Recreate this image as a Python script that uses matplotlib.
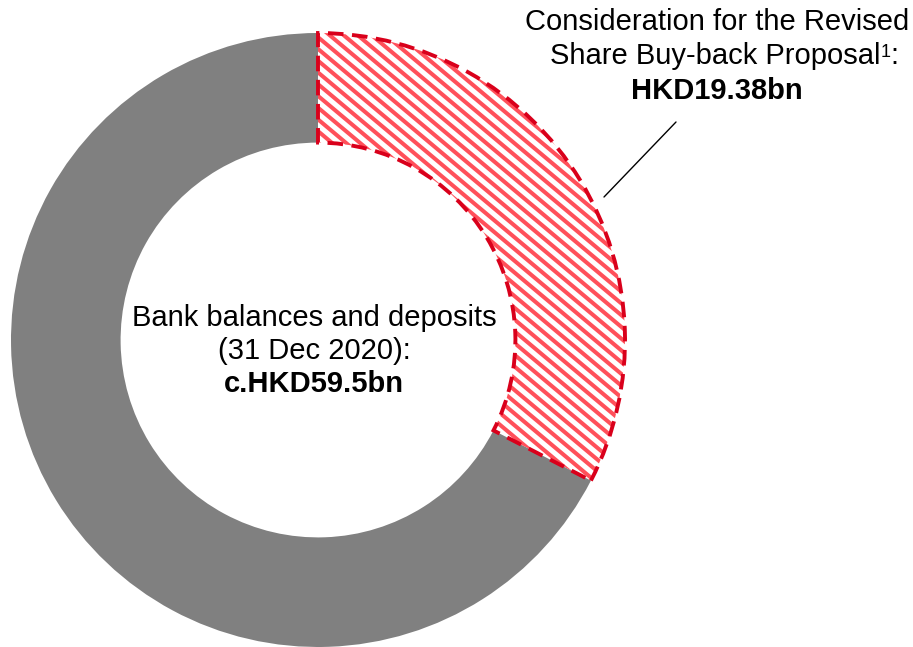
import numpy as np
import matplotlib
matplotlib.use("Agg")
import matplotlib.pyplot as plt
from matplotlib.collections import LineCollection

plt.rcParams["font.family"] = ["Liberation Sans", "DejaVu Sans"]

# HKD bn
bank_balances = 59.5
buyback_consideration = 19.38
segment_values = [buyback_consideration, bank_balances - buyback_consideration]

_GREY = "#808080"
_RED_EDGE = "#D9001B"
_RED_HATCH = "#FF505A"

W, H = 913, 647
fig = plt.figure(figsize=(W / 100, H / 100), dpi=100)
# square axes, 1 data unit = 307 px, centred at (318, 340) px from top-left
R_PX = 307
cx, cy = 318, H - 340
ax = fig.add_axes([(cx - R_PX) / W, (cy - R_PX) / H, 2 * R_PX / W, 2 * R_PX / H])

wedges, _ = ax.pie(segment_values, startangle=90, counterclock=False, radius=1,
                   colors=["none", _GREY],
                   wedgeprops=dict(width=0.357, linewidth=0))
ax.set_xlim(-1, 1)
ax.set_ylim(-1, 1)
ax.set_aspect("equal")
ax.axis("off")

red, grey = wedges
grey.set_zorder(1)

# dashed outline for the buy-back segment
red.set_facecolor("none")
red.set_edgecolor(_RED_EDGE)
red.set_linewidth(2.8)
red.set_linestyle((0, (4.0, 2.2)))
red.set_zorder(4)

# diagonal stripes clipped to the segment
theta = np.deg2rad(40)
step = 9.0 / R_PX
d = np.array([np.cos(theta), -np.sin(theta)])
n = np.array([np.sin(theta), np.cos(theta)])
segs = []
for k in np.arange(-2.0, 2.0, step):
    p = k * n
    segs.append([p - 2 * d, p + 2 * d])
stripes = LineCollection(segs, colors=_RED_HATCH, linewidths=2.9, zorder=3)
ax.add_collection(stripes)
stripes.set_clip_path(red)

def px(x, y_top):
    return ((x - cx) / R_PX, (H - y_top - cy) / R_PX)

fs = 21
# labels
ax.text(*px(717, 30), "Consideration for the Revised", ha="center", va="baseline",
        fontsize=fs, clip_on=False)
ax.text(*px(880, 64), "Share Buy-back Proposal", ha="right", va="baseline",
        fontsize=fs, clip_on=False)
ax.text(*px(881, 57), "1", ha="left", va="baseline", fontsize=13, clip_on=False)
ax.text(*px(890, 64), ":", ha="left", va="baseline", fontsize=fs, clip_on=False)
ax.text(*px(717, 99), f"HKD{buyback_consideration:.2f}bn", ha="center", va="baseline",
        fontsize=fs, fontweight="bold", clip_on=False)

ax.text(*px(314, 326), "Bank balances and deposits", ha="center", va="baseline",
        fontsize=fs)
ax.text(*px(314, 359), "(31 Dec 2020):", ha="center", va="baseline", fontsize=fs)
ax.text(*px(314, 392), f"c.HKD{bank_balances:.1f}bn", ha="center", va="baseline",
        fontsize=fs, fontweight="bold")

# leader line
ax.annotate("", xy=px(604, 197), xytext=px(676, 122),
            arrowprops=dict(arrowstyle="-", color="black", lw=1.0,
                            shrinkA=0, shrinkB=0),
            annotation_clip=False)

fig.savefig("out.png", dpi=100, facecolor="white")
